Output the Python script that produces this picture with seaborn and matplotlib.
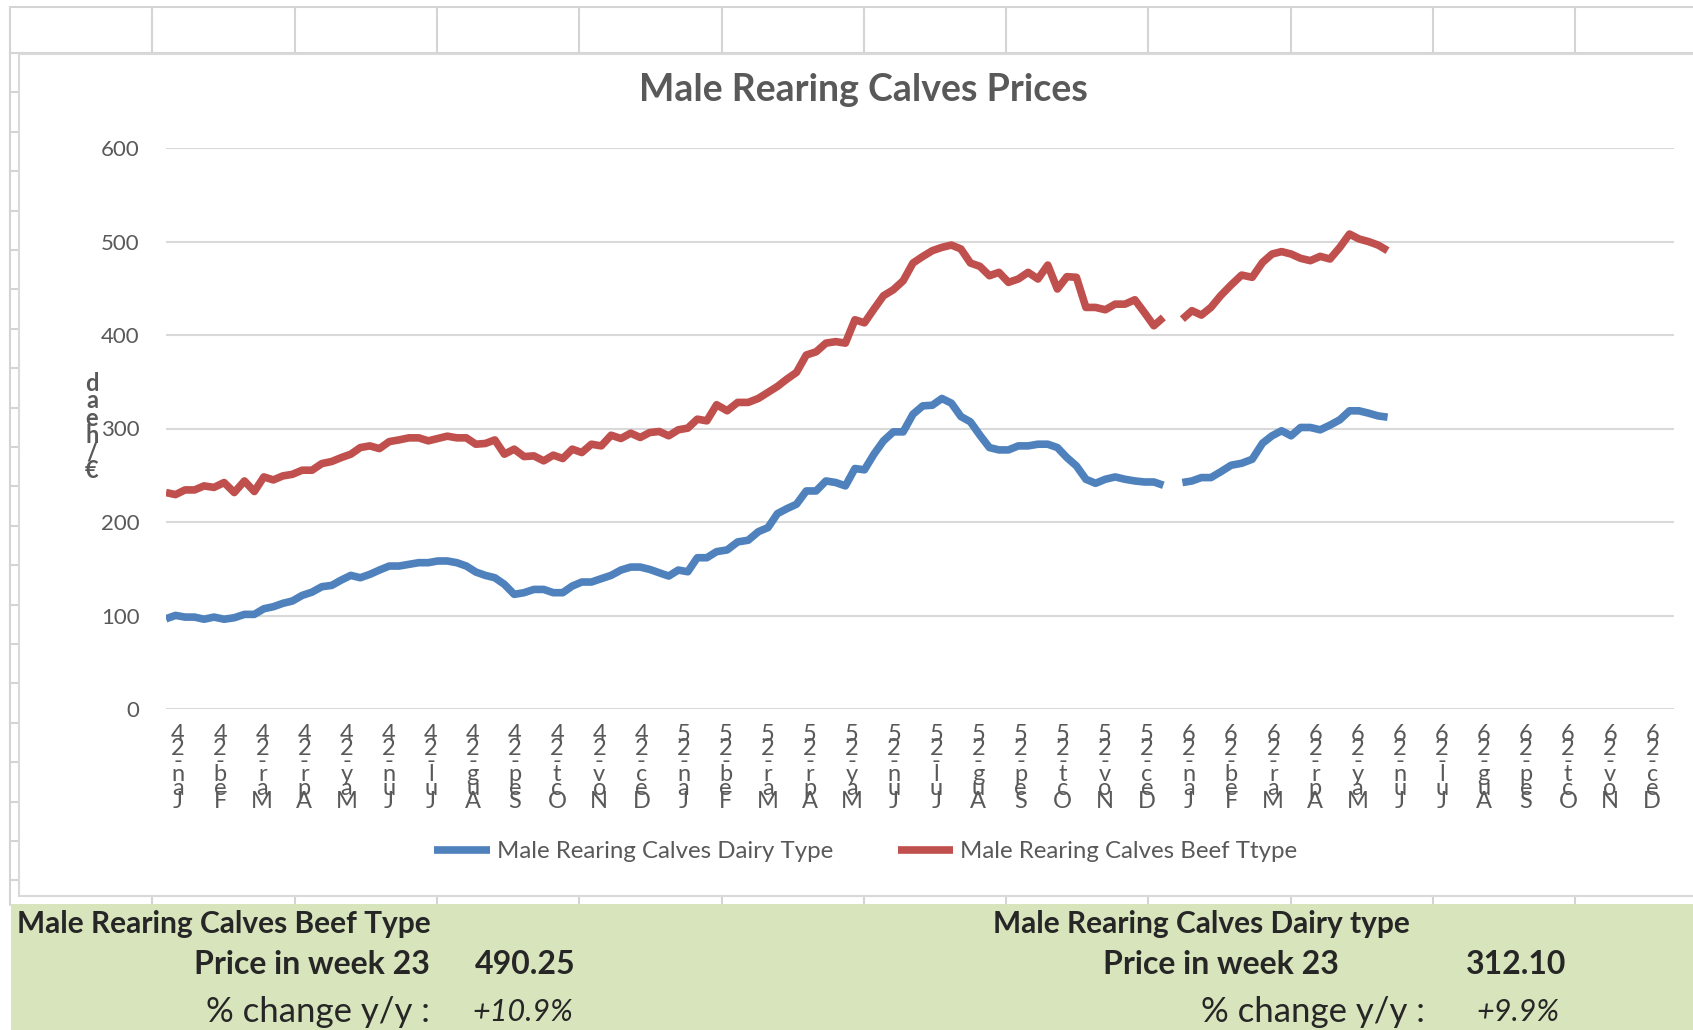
import numpy as np
import pandas as pd
import seaborn as sns
import matplotlib.pyplot as plt
import matplotlib.transforms as mtransforms
from matplotlib.patches import Rectangle

# weekly prices (EUR/head), week 1 of 2026 missing
beef_2024 = [231.5, 229.3, 234.3, 234.3, 238.6, 237, 242.2, 231.5, 243.9, 232.6, 248.2, 245, 249.3,
             251, 255.4, 255.4, 262.5, 264.7, 268.9, 272.5, 279.6, 281.4, 278.5, 286, 287.8, 290,
             290, 286.8, 289.3, 291.8, 290, 290, 283.2, 284, 287.8, 272.5, 277.9, 270, 270.7, 265.4,
             271.5, 267.9, 277.9, 274.3, 283.2, 281.4, 292.8, 289.3, 295, 290.4, 295.7, 296.8]
beef_2025 = [292.2, 298.6, 300.4, 310, 308.2, 325.4, 319, 327.9, 327.9, 332.2, 338.6, 345, 352.9,
             360, 378.6, 382, 391.3, 392.9, 391.3, 416.3, 413, 427.7, 442, 448.4, 458, 477, 484,
             490.2, 493.7, 496.2, 492, 477, 473.4, 463.4, 467, 456.3, 459.9, 467, 459.9, 474.8,
             449.2, 462.4, 461.7, 429.5, 429.5, 427, 433, 433, 437.7, 424.1, 409.9, 418.8]
beef_2026 = [None, 417, 426, 421.3, 429.5, 442, 453.5, 464.1, 461.7, 477.7, 486.6, 489.2, 486.6,
             482, 479.5, 484.1, 481.3, 493.7, 508, 502.7, 499.9, 496.2, 490.25]

dairy_2024 = [96.5, 100.1, 98.3, 98.3, 96, 98.3, 96, 97.6, 101.2, 101.2, 107.2, 109.4, 113, 115.5,
              121.5, 125, 130.8, 132.2, 137.9, 142.9, 140.4, 144, 148.6, 152.9, 152.9, 154.7, 156.5,
              156.5, 158.3, 158.3, 156.5, 152.9, 146.5, 142.9, 140.4, 133.3, 122.6, 124.4, 127.9,
              127.9, 124.4, 124.4, 131.5, 135.8, 135.8, 139.4, 142.9, 148.6, 151.8, 151.8, 149.3, 145.7]
dairy_2025 = [142.2, 148.6, 146.8, 161.8, 161.8, 168.3, 170.1, 178.7, 180.5, 189.7, 194, 209, 214.3,
              219, 233.2, 233.2, 243.9, 242.2, 238.6, 257.2, 255.8, 272.5, 286.8, 296.4, 296.4,
              315.3, 324.2, 324.9, 332.1, 327.1, 312.8, 307.1, 292.8, 279.6, 277.1, 277.1, 281.4,
              281.4, 283.2, 283.2, 279.6, 268.9, 260, 245.7, 241.4, 245.7, 248.2, 245.7, 243.9,
              242.8, 242.8, 239.3]
dairy_2026 = [None, 242.2, 243.9, 247.5, 247.5, 253.6, 260.7, 262.8, 267.1, 284.3, 292.2, 297.6,
              292.2, 301.1, 301.1, 298.6, 303.6, 309.3, 318.9, 318.9, 316.4, 313.5, 312.1]

series_names = ['Male Rearing Calves Dairy Type', 'Male Rearing Calves Beef Ttype']
months = ['Jan', 'Feb', 'Mar', 'Apr', 'May', 'Jun', 'Jul', 'Aug', 'Sep', 'Oct', 'Nov', 'Dec']
years = ['24', '25', '26']
month_labels = [f'{m}-{y}' for y in years for m in months]

GRAY = '#595959'
BLUE = '#4f81bd'
RED = '#c0504d'

# long-form table; x is the position in months from Jan 2024
dates = pd.date_range('2024-01-01', periods=len(beef_2024 + beef_2025 + beef_2026), freq='7D')
pos = (dates.year - 2024) * 12 + (dates.month - 1) + (dates.day - 1) / dates.days_in_month
frames = []
for name, vals in [(series_names[0], dairy_2024 + dairy_2025 + dairy_2026),
                   (series_names[1], beef_2024 + beef_2025 + beef_2026)]:
    d = pd.DataFrame({'pos': pos, 'price': pd.to_numeric(pd.Series(vals), errors='coerce'),
                      'series': name})
    d['segment'] = d['price'].isna().cumsum()
    frames.append(d.dropna())
df = pd.concat(frames, ignore_index=True)

sns.set_style('white')
plt.rcParams['font.family'] = ['Lato', 'DejaVu Sans']

W, H = 1693, 1030
fig = plt.figure(figsize=(W / 100, H / 100), dpi=100)

# spreadsheet background
bg = fig.add_axes([0, 0, 1, 1])
bg.set_xlim(0, W)
bg.set_ylim(H, 0)
bg.axis('off')
grid_c = '#d4d4d4'
for y in [7] + list(53 + 39.4 * np.arange(22)):
    bg.plot([10, W], [y, y], color=grid_c, lw=1.5, zorder=1)
bg.plot([10, 10], [7, 905], color=grid_c, lw=1.5, zorder=1)
for x in 10 + 142.3 * np.arange(1, 12):
    bg.plot([x, x], [7, 905], color=grid_c, lw=1.5, zorder=1)
bg.add_patch(Rectangle((19, 54), W, 842, facecolor='white', edgecolor='#d9d9d9', lw=1.5, zorder=3))
bg.add_patch(Rectangle((11, 904), W, H - 904, facecolor='#d8e4bc', edgecolor='none', zorder=3))

bg.text(863, 90, 'Male Rearing Calves Prices', ha='center', va='center',
        fontsize=27, fontweight='bold', color=GRAY, zorder=5)
bg.text(92, 372, '\n'.join(reversed('€/head')), ha='center', va='top', fontsize=17,
        fontweight='bold', color=GRAY, linespacing=0.7, zorder=5)

# summary band
bg.text(17, 924, 'Male Rearing Calves Beef Type', fontsize=21.5,
        fontweight='bold', va='center', ha='left', zorder=5)
bg.text(430, 964, 'Price in week 23', fontsize=23, fontweight='bold',
        va='center', ha='right', zorder=5)
bg.text(475, 964, '490.25', fontsize=23, fontweight='bold', va='center', ha='left', zorder=5)
bg.text(430, 1012, '% change y/y :', fontsize=25, va='center', ha='right', zorder=5)
bg.text(472, 1012, '+10.9%', fontsize=22, style='italic', va='center', ha='left', zorder=5)

bg.text(993, 924, 'Male Rearing Calves Dairy type', fontsize=21.5,
        fontweight='bold', va='center', ha='left', zorder=5)
bg.text(1339, 964, 'Price in week 23', fontsize=23, fontweight='bold',
        va='center', ha='right', zorder=5)
bg.text(1566, 964, '312.10', fontsize=23, fontweight='bold', va='center', ha='right', zorder=5)
bg.text(1425, 1012, '% change y/y :', fontsize=25, va='center', ha='right', zorder=5)
bg.text(1560, 1012, '+9.9%', fontsize=22, style='italic', va='center', ha='right', zorder=5)

# chart
ax = fig.add_axes([166 / W, 1 - 709 / H, (1674 - 166) / W, (709 - 148) / H])
ax.set_facecolor('none')
sns.lineplot(data=df, x='pos', y='price', hue='series', hue_order=series_names,
             units='segment', estimator=None, palette=[BLUE, RED], linewidth=5.5,
             solid_joinstyle='round', solid_capstyle='butt', ax=ax)

ax.set_xlim(0, 35.8)
ax.set_ylim(0, 600)
ax.set_yticks(range(0, 601, 100))
ax.set_xticks(range(len(month_labels)))
ax.set_xticklabels(['\n'.join(reversed(l)) for l in month_labels])
ax.yaxis.grid(True, color='#d9d9d9', lw=1.5)
ax.xaxis.grid(False)
for s in ax.spines.values():
    s.set_visible(False)
ax.tick_params(axis='y', length=0, pad=19, labelsize=16, labelcolor=GRAY)
ax.tick_params(axis='x', length=0, pad=11, labelsize=17, labelcolor=GRAY)
offset = mtransforms.ScaledTranslation(0.12, 0, fig.dpi_scale_trans)
for t in ax.get_xticklabels():
    t.set_linespacing(0.55)
    t.set_transform(t.get_transform() + offset)
ax.set_xlabel('')
ax.set_ylabel('')

handles, labels = ax.get_legend_handles_labels()
ax.get_legend().remove()
fig.legend(handles, labels, loc='center', bbox_to_anchor=(866 / W, 1 - 852 / H), ncol=2,
           frameon=False, fontsize=17.3, handlelength=2.3, handletextpad=0.3,
           columnspacing=2.7, labelcolor=GRAY)

fig.savefig('out.png', dpi=100)
